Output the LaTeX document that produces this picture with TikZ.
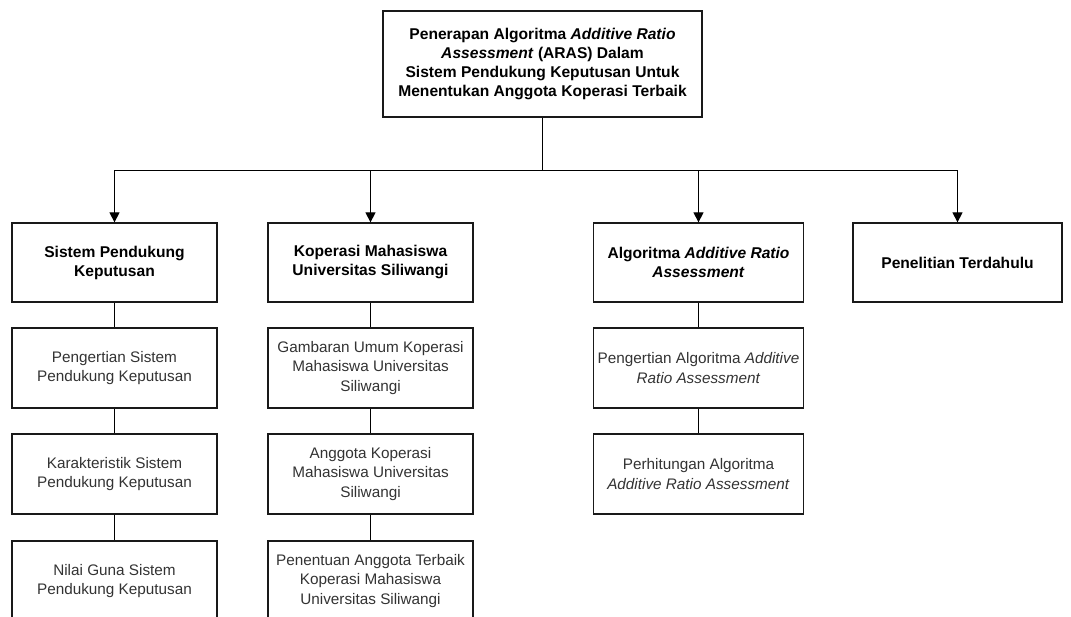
\documentclass[tikz,border=0pt]{standalone}
\usepackage{fontspec}
\setmainfont{Liberation Sans}
\usetikzlibrary{arrows.meta}
\tikzset{
  x=1pt,y=-1pt,
  box/.style={draw=black!90,line width=1.3pt,fill=white,align=center,inner sep=0pt,
    font=\fontsize{15.3}{19.2}\selectfont,text=black!80},
  hd/.style={box,font=\fontsize{15.6}{19}\selectfont\bfseries,text=black},
  w1/.style={minimum width=205pt,minimum height=79pt},
  w2/.style={minimum width=205pt,minimum height=80pt},
  conn/.style={draw=black,line width=1.3pt},
  arr/.style={conn,-{Triangle[length=10pt,width=10pt]}}
}
\begin{document}
\begin{tikzpicture}
\clip (0,0) rectangle (1071,617);
\useasboundingbox (0,0) rectangle (1071,617);
\fill[white] (0,0) rectangle (1071,617);

\node[hd,minimum width=319pt,minimum height=106pt] (top) at (542.5,64)
 {Penerapan Algoritma \textit{Additive Ratio}\\\textit{Assessment} (ARAS) Dalam\\Sistem Pendukung Keputusan Untuk\\Menentukan Anggota Koperasi Terbaik};

\node[hd,w1] (a) at (114.5,262.5) {Sistem Pendukung\\Keputusan};
\node[hd,w1] (b) at (370.5,262.5) {Koperasi Mahasiswa\\Universitas Siliwangi};
\node[hd,w1,minimum width=210pt] (c) at (698.5,262.5) {Algoritma \textit{Additive Ratio}\\\textit{Assessment}};
\node[hd,w1,minimum width=209pt] (d) at (957.5,262.5) {Penelitian Terdahulu};

\node[box,w2] (a1) at (114.5,368) {Pengertian Sistem\\Pendukung Keputusan};
\node[box,w2] (a2) at (114.5,474) {Karakteristik Sistem\\Pendukung Keputusan};
\node[box,w2] (a3) at (114.5,581) {Nilai Guna Sistem\\Pendukung Keputusan};

\node[box,w2] (b1) at (370.5,368) {Gambaran Umum Koperasi\\Mahasiswa Universitas\\Siliwangi};
\node[box,w2] (b2) at (370.5,474) {Anggota Koperasi\\Mahasiswa Universitas\\Siliwangi};
\node[box,w2] (b3) at (370.5,581) {Penentuan Anggota Terbaik\\Koperasi Mahasiswa\\Universitas Siliwangi};

\node[box,w2,minimum width=210pt] (c1) at (698.5,368) {Pengertian Algoritma \textit{Additive}\\\textit{Ratio Assessment}};
\node[box,w2,minimum width=210pt] (c2) at (698.5,474) {Perhitungan Algoritma\\\textit{Additive Ratio Assessment}};

\foreach \n in {a,b,c,d}
  \draw[arr] (top.south) -- ++(0,53) -| (\n.north);

\draw[conn] (a) -- (a1) (a1) -- (a2) (a2) -- (a3);
\draw[conn] (b) -- (b1) (b1) -- (b2) (b2) -- (b3);
\draw[conn] (c) -- (c1) (c1) -- (c2);
\end{tikzpicture}
\end{document}
